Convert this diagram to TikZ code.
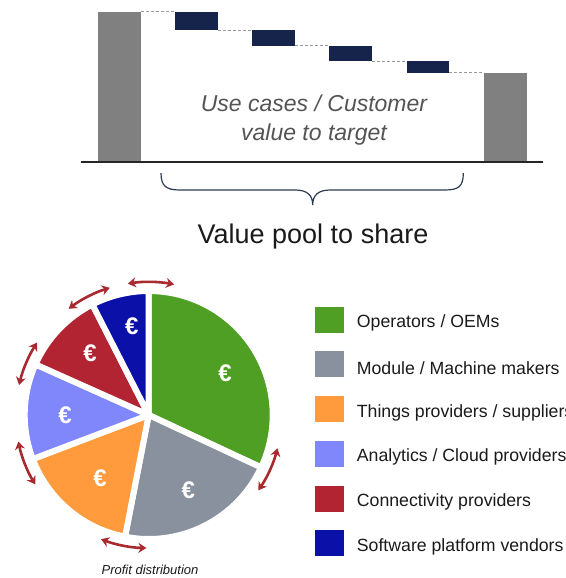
\documentclass[tikz,border=0pt]{standalone}
\usepackage{fontspec}
\setmainfont{Liberation Sans}
\usetikzlibrary{arrows.meta}
\definecolor{barGrey}{HTML}{808080}
\definecolor{navy}{HTML}{16234A}
\definecolor{braceBlue}{HTML}{2D3A55}
\definecolor{cGreen}{HTML}{4E9F24}
\definecolor{cGrey}{HTML}{89909E}
\definecolor{cOrange}{HTML}{FF9B3D}
\definecolor{cLav}{HTML}{8087FB}
\definecolor{cRed}{HTML}{B22432}
\definecolor{cBlue}{HTML}{0A10A8}
\definecolor{arrRed}{HTML}{A82A2E}
\definecolor{txt}{HTML}{1A1A1A}
\tikzset{
  guide/.style={draw=barGrey!80, line width=0.8pt, dash pattern=on 3pt off 2pt},
  slice/.style={draw=white, line width=6pt, line join=round},
  euro/.style={text=white, font=\fontsize{24}{26}\selectfont\bfseries},
  share/.style={arrRed, line width=2.6pt, {Stealth[length=8pt,width=10pt]}-{Stealth[length=8pt,width=10pt]}},
  keybox/.style={minimum width=29pt, minimum height=26pt, inner sep=0pt, draw=none},
  keytext/.style={anchor=west, inner sep=0pt, text=txt, font=\fontsize{17.7}{20}\selectfont},
}
\begin{document}
\begin{tikzpicture}[x=1pt, y=-1pt]
\useasboundingbox (0,0) rectangle (565,578);

% waterfall: start and end bars, contribution steps
\fill[barGrey] (98,11.7) rectangle (140.7,162);
\fill[barGrey] (484.3,72.7) rectangle (526.7,162);
\fill[navy] (175,11.7) rectangle (217.7,30.3);
\fill[navy] (252.3,30.3) rectangle (295,45.7);
\fill[navy] (329.3,45.7) rectangle (372.3,61.3);
\fill[navy] (406.7,61.3) rectangle (449.3,72.7);
\draw[guide] (140.7,11.7) -- (175,11.7);
\draw[guide] (217.7,30.3) -- (252.3,30.3);
\draw[guide] (295,45.7) -- (329.3,45.7);
\draw[guide] (372.3,61.3) -- (406.7,61.3);
\draw[guide] (449.3,72.7) -- (484.3,72.7);
\draw[line width=1.3pt, black!85] (81,162) -- (543,162);

\node[align=center, text=black!67, font=\fontsize{23}{29}\selectfont\itshape]
  (usecases) at (314,120.5) {Use cases / Customer\\value to target};

% brace under the base line
\draw[braceBlue, line width=1.2pt]
  (161,173) .. controls (161,186) and (166,190) .. (180,190) -- (295,190)
  .. controls (307,190) and (312.7,195) .. (312.7,205)
  .. controls (312.7,195) and (318.4,190) .. (330.4,190) -- (445,190)
  .. controls (459,190) and (463.3,186) .. (463.3,173);
\node[text=txt, font=\fontsize{27}{30}\selectfont] (pool) at (313,237) {Value pool to share};

% profit pie
\begin{scope}[shift={(148.7,415)}, y=1pt]
  \fill[cGreen, slice] (0,0) -- (-25:124) arc[start angle=-25, end angle=90, radius=124] -- cycle;
  \fill[cGrey, slice] (0,0) -- (-101:124) arc[start angle=-101, end angle=-25, radius=124] -- cycle;
  \fill[cOrange, slice] (0,0) -- (-159.2:124) arc[start angle=-159.2, end angle=-101, radius=124] -- cycle;
  \fill[cLav, slice] (0,0) -- (155.9:124) arc[start angle=155.9, end angle=200.8, radius=124] -- cycle;
  \fill[cRed, slice] (0,0) -- (117:124) arc[start angle=117, end angle=155.9, radius=124] -- cycle;
  \fill[cBlue, slice] (0,0) -- (90:124) arc[start angle=90, end angle=117, radius=124] -- cycle;
  \foreach \a in {89,117,157,201.5,259,-24.5}
    \draw[share] (\a-10:133) arc[start angle=\a-10, end angle=\a+10, radius=133];
\end{scope}
\node[euro] (eGreen) at (225,373) {€};
\node[euro] (eGrey) at (188.3,490) {€};
\node[euro] (eOrange) at (100,478.3) {€};
\node[euro] (eLav) at (65,415) {€};
\node[euro] (eRed) at (90,353.3) {€};
\node[euro] (eBlue) at (131.7,326.7) {€};
\node[text=txt, font=\fontsize{13}{15}\selectfont\itshape] (profit) at (150,570) {Profit distribution};

% legend
\node[keybox, fill=cGreen] (k1) at (329.5,319.7) {};
\node[keybox, fill=cGrey] (k2) at (329.5,364.4) {};
\node[keybox, fill=cOrange] (k3) at (329.5,409.1) {};
\node[keybox, fill=cLav] (k4) at (329.5,453.8) {};
\node[keybox, fill=cRed] (k5) at (329.5,498.5) {};
\node[keybox, fill=cBlue] (k6) at (329.5,543.2) {};
\node[keytext] (t1) at (356.7,323.2) {Operators / OEMs};
\node[keytext] (t2) at (356.7,367.9) {Module / Machine makers};
\node[keytext] (t3) at (356.7,412.6) {Things providers / suppliers};
\node[keytext] (t4) at (356.7,457.3) {Analytics / Cloud providers};
\node[keytext] (t5) at (356.7,502.0) {Connectivity providers};
\node[keytext] (t6) at (356.7,546.7) {Software platform vendors};
\end{tikzpicture}
\end{document}
